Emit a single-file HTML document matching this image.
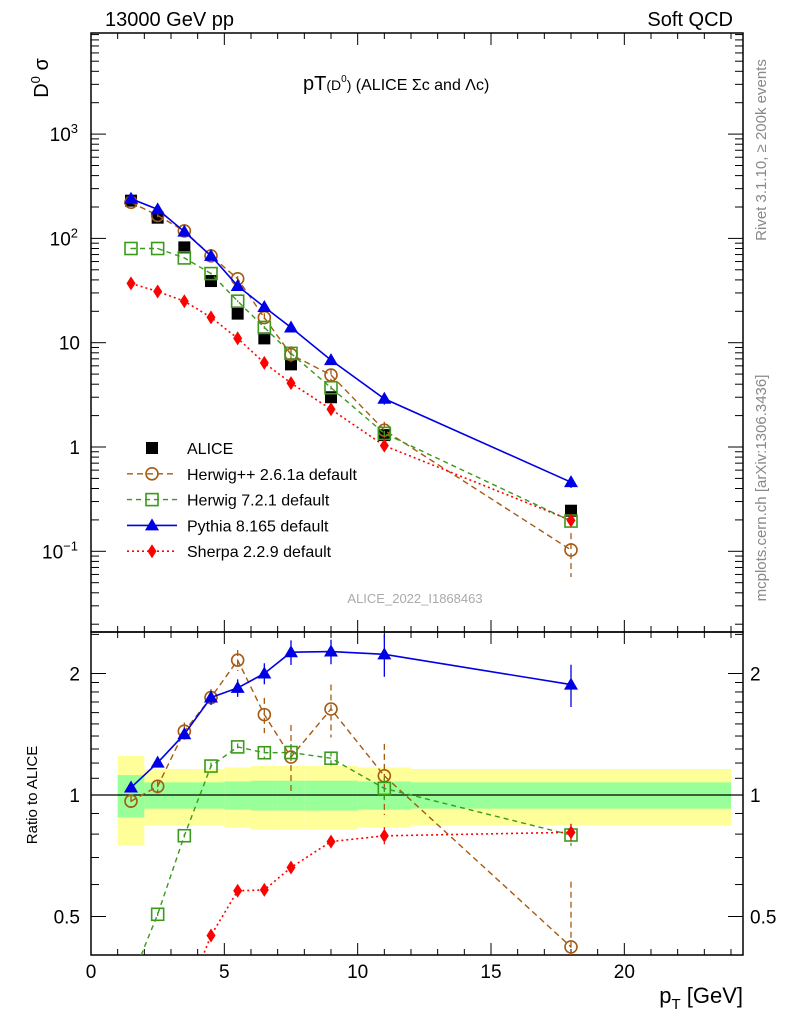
<!DOCTYPE html>
<html><head><meta charset="utf-8"><style>
html,body{margin:0;padding:0;background:#fff;width:786px;height:1024px;overflow:hidden;}
svg{display:block;font-family:"Liberation Sans",sans-serif;}
</style></head><body>
<svg id="c" width="786" height="1024" viewBox="0 0 786 1024" xmlns="http://www.w3.org/2000/svg"></svg>
<script>
const xs=[1.5,2.5,3.5,4.5,5.5,6.5,7.5,9,11,18];
const alice=[230,158,82,39,19,11,6.2,3.0,1.3,0.245];
const aliceErr=[0.10,0.09,0.09,0.09,0.09,0.09,0.09,0.09,0.1,0.1];
const pythia=[240,190,116,68,35,22,14,6.8,2.9,0.46];
const pythiaErr=[0.02,0.02,0.03,0.04,0.05,0.06,0.07,0.07,0.12,0.12];
const herwigpp=[222,166,118,68,41,17.4,7.7,4.9,1.45,0.103];
const herwigppErr=[0.03,0.04,0.05,0.05,0.06,0.1,0.2,0.15,0.2,0.45];
const herwig7=[80,80,65,46,25,14,7.9,3.7,1.35,0.195];
const herwig7Err=[0.01,0.01,0.01,0.02,0.02,0.03,0.05,0.04,0.06,0.06];
const sherpa=[37,31,25,17.5,11,6.4,4.1,2.3,1.03,0.198];
const sherpaErr=[0.01,0.01,0.01,0.01,0.02,0.02,0.03,0.03,0.05,0.05];
const binLo=[1,2,3,4,5,6,7,8,10,12];
const binHi=[2,3,4,5,6,7,8,10,12,24];
const statRel=[0.12,0.075,0.075,0.075,0.08,0.085,0.085,0.085,0.08,0.075];
const totRel=[0.25,0.16,0.16,0.16,0.17,0.18,0.18,0.18,0.17,0.16];
const xTicks=[0,5,10,15,20];

const S=document.getElementById('c');const NS='http://www.w3.org/2000/svg';
function el(t,a,p){const e=document.createElementNS(NS,t);for(const k in a)e.setAttribute(k,a[k]);(p||S).appendChild(e);return e;}
const L=91,R=743,T1=33,B1=632,T2=632,B2=955;
const X=v=>L+v*(R-L)/24.45;
const Y1=v=>447-104.3*Math.log10(v);
const Y2=v=>795-121.5*Math.log2(v);
const clip1=el('clipPath',{id:'c1'});el('rect',{x:L,y:T1,width:R-L,height:B1-T1},clip1);
const clip2=el('clipPath',{id:'c2'});el('rect',{x:L,y:T2,width:R-L,height:B2-T2},clip2);

const gb=el('g',{'clip-path':'url(#c2)'});

binLo.forEach((lo,i)=>{
 el('rect',{x:X(lo),y:Y2(1+totRel[i]),width:X(binHi[i])-X(lo),height:Y2(1-totRel[i])-Y2(1+totRel[i]),fill:'#ffff99'},gb);
});
binLo.forEach((lo,i)=>{
 el('rect',{x:X(lo),y:Y2(1+statRel[i]),width:X(binHi[i])-X(lo),height:Y2(1-statRel[i])-Y2(1+statRel[i]),fill:'#99ff99'},gb);
});
el('line',{x1:L,x2:R,y1:Y2(1),y2:Y2(1),stroke:'#000','stroke-width':1.3});

el('rect',{x:L,y:T1,width:R-L,height:B1-T1,fill:'none',stroke:'#000','stroke-width':1.5});
el('rect',{x:L,y:T2,width:R-L,height:B2-T2,fill:'none',stroke:'#000','stroke-width':1.5});
for(let v=0;v<=24;v++){const maj=v%5==0,l=maj?12:6,x=X(v);
 [[T1,1],[B1,-1],[T2,1],[B2,-1]].forEach(([y,d])=>el('line',{x1:x,x2:x,y1:y,y2:y+d*l,stroke:'#000'}));}
xTicks.forEach(v=>{const t=el('text',{x:X(v),y:978,'text-anchor':'middle','font-size':19});t.textContent=v;
 });
for(let e=-2;e<=3;e++)for(let m=1;m<10;m++){const v=m*Math.pow(10,e),y=Y1(v);if(y<T1||y>B1)continue;const l=m==1?15:8;
 el('line',{x1:L,x2:L+l,y1:y,y2:y,stroke:'#000'});el('line',{x1:R,x2:R-l,y1:y,y2:y,stroke:'#000'});}
[['10','3',1000],['10','2',100]].forEach(([b,s,v])=>{const t=el('text',{x:78,y:Y1(v)+7,'text-anchor':'end','font-size':19});t.innerHTML=b+'<tspan dy="-8" font-size="13">'+s+'</tspan>';});
[['10',10],['1',1]].forEach(([s,v])=>{const t=el('text',{x:80,y:Y1(v)+7,'text-anchor':'end','font-size':19});t.textContent=s;});
{const t=el('text',{x:78,y:Y1(0.1)+7,'text-anchor':'end','font-size':19});t.innerHTML='10<tspan dy="-8" font-size="13">−1</tspan>';}
[0.4,0.5,0.6,0.7,0.8,0.9,1,1.1,1.2,1.3,1.4,1.5,1.6,1.7,1.8,1.9,2,2.5].forEach(v=>{const y=Y2(v);if(y<T2||y>B2)return;const l=(v==0.5||v==1||v==2)?15:8;
 el('line',{x1:L,x2:L+l,y1:y,y2:y,stroke:'#000'});el('line',{x1:R,x2:R-l,y1:y,y2:y,stroke:'#000'});});
[[2,'2'],[1,'1'],[0.5,'0.5']].forEach(([v,s])=>{
 el('text',{x:80,y:Y2(v)+7,'text-anchor':'end','font-size':19}).textContent=s;
 el('text',{x:750,y:Y2(v)+7,'font-size':19}).textContent=s;});

function marker(g,type,x,y,col){
 if(type=='sq')el('rect',{x:x-6,y:y-6,width:12,height:12,fill:'#000'},g);
 else if(type=='circ')el('circle',{cx:x,cy:y,r:6,fill:'none',stroke:col,'stroke-width':1.6},g);
 else if(type=='osq')el('rect',{x:x-6,y:y-6,width:12,height:12,fill:'none',stroke:col,'stroke-width':1.6},g);
 else if(type=='tri')el('polygon',{points:`${x},${y-7} ${x+7},${y+5} ${x-7},${y+5}`,fill:col},g);
 else if(type=='dia')el('polygon',{points:`${x},${y-7} ${x+4.5},${y} ${x},${y+7} ${x-4.5},${y}`,fill:col},g);
}
const series=[
 {n:'herwigpp',v:herwigpp,e:herwigppErr,c:'#a65a13',t:'circ',d:'6,4',w:1.4},
 {n:'herwig7',v:herwig7,e:herwig7Err,c:'#3a9a1a',t:'osq',d:'5,4',w:1.4},
 {n:'pythia',v:pythia,e:pythiaErr,c:'#0000e6',t:'tri',d:'',w:1.6},
 {n:'sherpa',v:sherpa,e:sherpaErr,c:'#ff0000',t:'dia',d:'2,3',w:1.6}];
const ga=el('g',{'clip-path':'url(#c1)'});

xs.forEach((x,i)=>marker(ga,'sq',X(x),Y1(alice[i]),'#000'));
series.forEach(s=>{
 const g=el('g',{'clip-path':'url(#c1)'});
 
 el('polyline',{points:xs.map((x,i)=>X(x)+','+Y1(s.v[i])).join(' '),fill:'none',stroke:s.c,'stroke-width':s.w,'stroke-dasharray':s.d},g);
 xs.forEach((x,i)=>{el('line',{x1:X(x),x2:X(x),y1:Y1(s.v[i]*(1+s.e[i])),y2:Y1(s.v[i]*Math.max(0.05,1-s.e[i])),stroke:s.c,'stroke-width':1.3,'stroke-dasharray':s.d},g);marker(g,s.t,X(x),Y1(s.v[i]),s.c);});
 const g2=el('g',{'clip-path':'url(#c2)'});
 
 const r=xs.map((x,i)=>s.v[i]/alice[i]);
 el('polyline',{points:xs.map((x,i)=>X(x)+','+Y2(r[i])).join(' '),fill:'none',stroke:s.c,'stroke-width':s.w,'stroke-dasharray':s.d},g2);
 xs.forEach((x,i)=>{el('line',{x1:X(x),x2:X(x),y1:Y2(r[i]*(1+s.e[i])),y2:Y2(r[i]*Math.max(0.05,1-s.e[i])),stroke:s.c,'stroke-width':1.3,'stroke-dasharray':s.d},g2);marker(g2,s.t,X(x),Y2(r[i]),s.c);});
});
const lg=el('g',{});
const legTxt=['ALICE','Herwig++ 2.6.1a default','Herwig 7.2.1 default','Pythia 8.165 default','Sherpa 2.2.9 default'];
legTxt.forEach((t,i)=>{const y=448+i*25.8;
 if(i==0)marker(lg,'sq',152,y,'#000');else{const s=series[i-1];
  el('line',{x1:127,x2:177,y1:y,y2:y,stroke:s.c,'stroke-width':s.w,'stroke-dasharray':s.d},lg);marker(lg,s.t,152,y,s.c);}
 el('text',{x:187,y:y+6,'font-size':16},lg).textContent=t;});
function txt(a,s,n){const t=el('text',a);t.innerHTML=s;return t;}
txt({x:105,y:26,'font-size':20},'13000 GeV pp','energy-label');
txt({x:733,y:26,'font-size':20,'text-anchor':'end'},'Soft QCD','process-label');
txt({x:303,y:90,'font-size':20},'pT<tspan font-size="14">(D</tspan><tspan font-size="10" dy="-8">0</tspan><tspan font-size="14" dy="8">)</tspan><tspan font-size="16"> (ALICE Σc and Λc)</tspan>','plot-title');
txt({x:415,y:603,'font-size':13,'text-anchor':'middle',fill:'#aaa'},'ALICE_2022_I1868463','analysis-id');
txt({x:0,y:0,'font-size':20,transform:'translate(48,78) rotate(-90)','text-anchor':'middle'},'D<tspan font-size="13" dy="-8">0</tspan><tspan dy="8"> σ</tspan>','y-axis-title');
txt({x:0,y:0,'font-size':15,transform:'translate(37,795) rotate(-90)','text-anchor':'middle'},'Ratio to ALICE','ratio-axis-title');
txt({x:743,y:1003,'font-size':22,'text-anchor':'end'},'p<tspan font-size="15" dy="6">T</tspan><tspan dy="-6"> [GeV]</tspan>','x-axis-title');
txt({x:0,y:0,'font-size':15,fill:'#888',transform:'translate(766,150) rotate(-90)','text-anchor':'middle'},'Rivet 3.1.10, ≥ 200k events','rivet-label');
txt({x:0,y:0,'font-size':15,fill:'#888',transform:'translate(766,488) rotate(-90)','text-anchor':'middle'},'mcplots.cern.ch [arXiv:1306.3436]','mcplots-label');
</script>
</body></html>
